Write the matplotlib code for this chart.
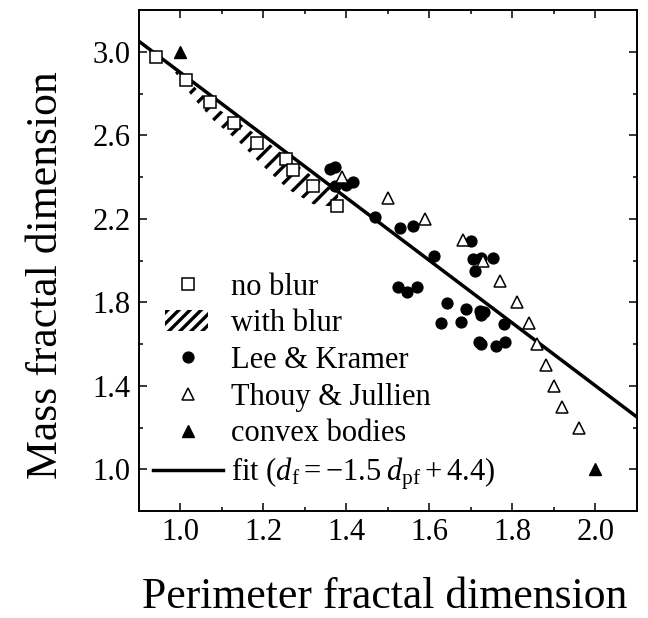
import numpy as np
import matplotlib
matplotlib.use("Agg")
import matplotlib.pyplot as plt
from matplotlib.lines import Line2D
from matplotlib.patches import Patch, Rectangle
from matplotlib.legend_handler import HandlerPatch

plt.rcParams['font.family'] = ['Liberation Serif', 'DejaVu Serif']
plt.rcParams['mathtext.fontset'] = 'custom'
plt.rcParams['mathtext.rm'] = 'Liberation Serif'
plt.rcParams['mathtext.it'] = 'Liberation Serif:italic'
plt.rcParams['hatch.linewidth'] = 2.4

# simulations without blur (open squares)
noblur_x = [0.94, 1.013, 1.072, 1.129, 1.185, 1.254, 1.271, 1.32, 1.377]
noblur_y = [2.973, 2.864, 2.757, 2.659, 2.563, 2.486, 2.432, 2.359, 2.261]

# band covered by the blurred simulations
blur_x = [0.98, 1.03, 1.08, 1.14, 1.20, 1.26, 1.32, 1.36, 1.38]
blur_hi = [2.93, 2.84, 2.74, 2.66, 2.58, 2.49, 2.40, 2.35, 2.32]
blur_lo = [2.92, 2.78, 2.67, 2.57, 2.45, 2.34, 2.27, 2.26, 2.28]

# Lee & Kramer (filled circles)
lee_x = [1.36, 1.372, 1.372, 1.40, 1.416, 1.468, 1.53, 1.56, 1.61, 1.70,
         1.704, 1.725, 1.753, 1.709, 1.524, 1.547, 1.570, 1.643, 1.689, 1.721,
         1.731, 1.725, 1.627, 1.675, 1.78, 1.72, 1.725, 1.761, 1.781]
lee_y = [2.44, 2.45, 2.355, 2.36, 2.376, 2.208, 2.155, 2.163, 2.021, 2.093,
         2.005, 2.013, 2.013, 1.949, 1.872, 1.848, 1.872, 1.797, 1.768, 1.757,
         1.752, 1.74, 1.70, 1.704, 1.696, 1.61, 1.60, 1.592, 1.608]

# Thouy & Jullien (open triangles)
thouy_x = [1.39, 1.50, 1.59, 1.68, 1.73, 1.77, 1.81, 1.84, 1.86, 1.88, 1.90, 1.92, 1.96]
thouy_y = [2.40, 2.30, 2.20, 2.10, 2.00, 1.90, 1.80, 1.70, 1.60, 1.50, 1.40, 1.30, 1.20]

# convex bodies (filled triangles)
convex_x = [1.0, 2.0]
convex_y = [3.0, 1.0]

# fit d_f = -1.5 d_pf + 4.4
fit_slope = -1.5
fit_icept = 4.4
fit_x = np.array([0.9, 2.1])

xticks = [1.0, 1.2, 1.4, 1.6, 1.8, 2.0]
xminor = [1.1, 1.3, 1.5, 1.7, 1.9]
yticks = [1.0, 1.4, 1.8, 2.2, 2.6, 3.0]
yminor = [1.2, 1.6, 2.0, 2.4, 2.8]

fig = plt.figure(figsize=(6.48, 6.18), dpi=100)
ax = fig.add_axes([0.2145, 0.1731, 0.7685, 0.8107])

ax.fill_between(blur_x, blur_lo, blur_hi, facecolor='none', edgecolor='black',
                linewidth=0, hatch='//', zorder=1)
ax.plot(fit_x, fit_slope * fit_x + fit_icept, color='black', lw=2.5, zorder=2)
ax.plot(noblur_x, noblur_y, 's', ms=8.5, mfc='white', mec='black', mew=1.1, zorder=3)
ax.plot(lee_x, lee_y, 'o', ms=7.8, color='black', zorder=3)
ax.plot(thouy_x, thouy_y, '^', ms=9, mfc='white', mec='black', mew=1.1, zorder=3)
ax.plot(convex_x, convex_y, '^', ms=9, color='black', zorder=3)

ax.set_xlim(0.9, 2.1)
ax.set_ylim(0.8, 3.2)
ax.set_xticks(xticks)
ax.set_xticks(xminor, minor=True)
ax.set_yticks(yticks)
ax.set_yticks(yminor, minor=True)
ax.tick_params(which='both', direction='in', top=True, right=True, width=1.1, labelsize=22)
ax.tick_params(which='major', length=5.5)
ax.tick_params(which='minor', length=3)
ax.tick_params(axis='x', pad=5)
ax.tick_params(axis='y', pad=6)
for s in ax.spines.values():
    s.set_linewidth(1.4)


def narrow_patch(legend, orig_handle, xdescent, ydescent, width, height, fontsize):
    return Rectangle((-xdescent + 0.17 * width, -ydescent), 0.62 * width, height)


handles = [
    Line2D([], [], marker='s', ls='none', ms=8.5, mfc='white', mec='black', mew=1.1, label='no blur'),
    Patch(facecolor='none', edgecolor='black', linewidth=0, hatch='///', label='with blur'),
    Line2D([], [], marker='o', ls='none', ms=7.8, color='black', label='Lee & Kramer'),
    Line2D([], [], marker='^', ls='none', ms=9, mfc='white', mec='black', mew=1.1, label='Thouy & Jullien'),
    Line2D([], [], marker='^', ls='none', ms=9, color='black', label='convex bodies'),
    Line2D([], [], color='black', lw=2.5,
           label=r'fit ($d_{\mathrm{f}} = -1.5\;d_{\mathrm{pf}} + 4.4$)'),
]
ax.legend(handles=handles, loc='lower left', bbox_to_anchor=(0.028, 0.037),
          frameon=False, fontsize=22, borderpad=0, borderaxespad=0,
          handlelength=2.3, handletextpad=0.25, labelspacing=0.25,
          handler_map={Patch: HandlerPatch(patch_func=narrow_patch)})

fig.text(385 / 648, 1 - 608 / 618, 'Perimeter fractal dimension', ha='center',
         va='baseline', fontsize=31.5)
fig.text(57 / 648, 1 - 275 / 618, 'Mass fractal dimension', rotation=90,
         rotation_mode='anchor', ha='center', va='baseline', fontsize=31.5)

fig.savefig('out.png', dpi=100)
